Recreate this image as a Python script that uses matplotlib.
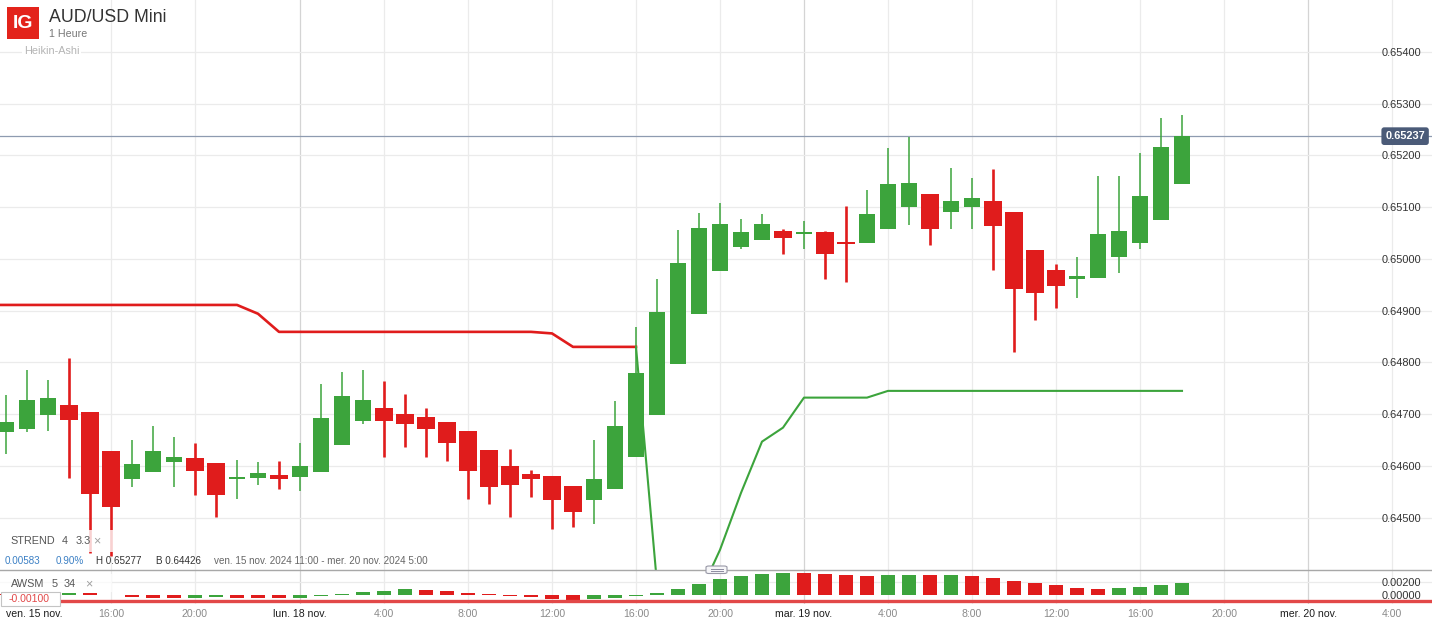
import matplotlib
matplotlib.use('Agg')
import matplotlib.pyplot as plt
from matplotlib.patches import Rectangle, FancyBboxPatch
from matplotlib.lines import Line2D
import numpy as np

plt.rcParams['font.family'] = ['Liberation Sans', 'DejaVu Sans']

# ---------------- data (hourly Heikin-Ashi candles, index 0 = ven. 15 nov. 11:00) ----------------
opens = [0.64666, 0.64672, 0.64699, 0.64718, 0.64705, 0.64628, 0.64574, 0.64588, 0.64607, 0.64616,
         0.64606, 0.64574, 0.64576, 0.64583, 0.64578, 0.64588, 0.64640, 0.64686, 0.64711, 0.64701,
         0.64695, 0.64685, 0.64668, 0.64631, 0.64599, 0.64585, 0.64581, 0.64562, 0.64535, 0.64555,
         0.64617, 0.64698, 0.64796, 0.64894, 0.64976, 0.65022, 0.65037, 0.65054, 0.65048, 0.65052,
         0.65033, 0.65030, 0.65058, 0.65101, 0.65125, 0.65091, 0.65101, 0.65112, 0.65091, 0.65017,
         0.64979, 0.64962, 0.64964, 0.65004, 0.65030, 0.65076, 0.65145]
highs = [0.64737, 0.64786, 0.64766, 0.64809, 0.64705, 0.64628, 0.64651, 0.64678, 0.64655, 0.64645,
         0.64606, 0.64612, 0.64608, 0.64610, 0.64645, 0.64759, 0.64782, 0.64786, 0.64765, 0.64739,
         0.64712, 0.64685, 0.64668, 0.64631, 0.64633, 0.64593, 0.64581, 0.64562, 0.64651, 0.64726,
         0.64869, 0.64961, 0.65056, 0.65089, 0.65108, 0.65077, 0.65087, 0.65058, 0.65073, 0.65054,
         0.65102, 0.65133, 0.65214, 0.65236, 0.65125, 0.65176, 0.65156, 0.65174, 0.65091, 0.65017,
         0.64990, 0.65004, 0.65160, 0.65160, 0.65205, 0.65272, 0.65277]
lows = [0.64624, 0.64665, 0.64668, 0.64576, 0.64432, 0.64426, 0.64559, 0.64588, 0.64559, 0.64543,
        0.64501, 0.64537, 0.64564, 0.64555, 0.64551, 0.64588, 0.64640, 0.64682, 0.64617, 0.64636,
        0.64618, 0.64609, 0.64537, 0.64526, 0.64501, 0.64541, 0.64478, 0.64483, 0.64487, 0.64555,
        0.64617, 0.64698, 0.64796, 0.64894, 0.64976, 0.65020, 0.65037, 0.65010, 0.65020, 0.64962,
        0.64956, 0.65030, 0.65058, 0.65066, 0.65026, 0.65058, 0.65057, 0.64979, 0.64821, 0.64881,
        0.64906, 0.64925, 0.64964, 0.64972, 0.65020, 0.65076, 0.65145]
closes = [0.64684, 0.64728, 0.64732, 0.64688, 0.64545, 0.64520, 0.64604, 0.64628, 0.64618, 0.64591,
          0.64543, 0.64578, 0.64587, 0.64574, 0.64599, 0.64693, 0.64736, 0.64728, 0.64686, 0.64682,
          0.64672, 0.64644, 0.64591, 0.64559, 0.64564, 0.64574, 0.64535, 0.64512, 0.64575, 0.64678,
          0.64780, 0.64898, 0.64992, 0.65060, 0.65068, 0.65052, 0.65068, 0.65041, 0.65052, 0.65010,
          0.65028, 0.65087, 0.65145, 0.65147, 0.65058, 0.65112, 0.65118, 0.65064, 0.64941, 0.64935,
          0.64947, 0.64967, 0.65048, 0.65054, 0.65122, 0.65216, 0.65237]

# SuperTrend (4, 3.3), indexed from -1 (the 10:00 candle just left of the view):
# down-trend (red) part, then up-trend (green) part
strend_down = [0.64911] * 13 + [0.64894] + [0.64859] * 13 + [0.64856] + [0.64830] * 4 + [None] * 26
strend_up = [None] * 31 + [0.64830, 0.64373, 0.64350, 0.64350, 0.64438, 0.64548, 0.64647, 0.64674] \
            + [0.64732] * 4 + [0.64745] * 15

# Awesome Oscillator (5, 34)
awsm = [0.00010, 0.00015, 0.00025, 0.00030, 0.00020, -0.00010, -0.00030, -0.00048, -0.00054, -0.00048,
        -0.00043, -0.00048, -0.00054, -0.00057, -0.00048, -0.00021, 0.00005, 0.00043, 0.00064, 0.00086,
        0.00075, 0.00059, 0.00032, 0.00005, -0.00015, -0.00043, -0.00065, -0.00080, -0.00075, -0.00060,
        -0.00027, 0.00027, 0.00097, 0.00178, 0.00247, 0.00307, 0.00339, 0.00350, 0.00348, 0.00328,
        0.00312, 0.00307, 0.00312, 0.00313, 0.00311, 0.00313, 0.00301, 0.00274, 0.00220, 0.00188,
        0.00150, 0.00113, 0.00097, 0.00108, 0.00129, 0.00161, 0.00188]

tick_pos = [0, 5, 9, 14, 18, 22, 26, 30, 34, 38, 42, 46, 50, 54, 58, 62, 66]
tick_labels = ['ven. 15 nov.', '16:00', '20:00', 'lun. 18 nov.', '4:00', '8:00', '12:00', '16:00',
               '20:00', 'mar. 19 nov.', '4:00', '8:00', '12:00', '16:00', '20:00', 'mer. 20 nov.', '4:00']
price_ticks = [0.645, 0.646, 0.647, 0.648, 0.649, 0.650, 0.651, 0.652, 0.653, 0.654]
awsm_ticks = [0.0, 0.002]
last_price = 0.65237
awsm_ref_level = -0.001

# ---------------- styling ----------------
GREEN = '#3ca43c'
RED = '#e01c1c'
GRID = '#ebebeb'
DAYGRID = '#d4d4d4'

W, H = 1432, 622
fig = plt.figure(figsize=(W / 100, H / 100), dpi=100)
fig.patch.set_facecolor('white')


def fx(x):
    return x / W


def fy(y):
    return 1 - y / H


ax = fig.add_axes([0, fy(569.5), 1, 569.5 / H])
ax2 = fig.add_axes([0, fy(604), 1, (604 - 569.5) / H])

n = len(closes)
idx = np.arange(n)
xlim = (-6 / 21, (W - 6) / 21)

for a in (ax, ax2):
    a.set_xlim(*xlim)
    a.set_facecolor('white')
    for s in a.spines.values():
        s.set_visible(False)
    for k, lab in zip(tick_pos, tick_labels):
        if k == 0:
            continue
        day = 'nov.' in lab
        a.axvline(k, color=DAYGRID if day else GRID, lw=0.9, zorder=0)

ax.set_ylim(0.644, 0.655)
for p in price_ticks:
    ax.axhline(p, color=GRID, lw=0.9, zorder=0)

# candles
for k in idx:
    o, h, l, c = opens[k], highs[k], lows[k], closes[k]
    up = c >= o
    col = GREEN if up else RED
    ax.vlines(k, l, h, color=col, lw=1.1 if up else 1.9, zorder=3)
    bh = max(abs(c - o), 0.00004)
    bottom = min(o, c) if abs(c - o) >= 0.00004 else (o + c) / 2 - 0.00002
    ax.bar(k, bh, bottom=bottom, width=0.76 if up else 0.86, color=col, linewidth=0, zorder=4)

# supertrend
st_x = np.arange(-1, n)
sd = np.array([np.nan if v is None else v for v in strend_down])
su = np.array([np.nan if v is None else v for v in strend_up])
ax.plot(st_x, sd, color=RED, lw=1.9, zorder=5, solid_joinstyle='round')
ax.plot(st_x, su, color=GREEN, lw=1.5, zorder=5, solid_joinstyle='round')

# last price line
ax.axhline(last_price, color='#8e9bb0', lw=0.9, zorder=2)

# y tick labels (inside, right)
ax.yaxis.tick_right()
ax.set_yticks(price_ticks)
ax.set_yticklabels(['%.5f' % p for p in price_ticks])
ax.tick_params(axis='y', length=0, pad=-7.4, labelsize=7.9, labelcolor='#333333')
for lab in ax.get_yticklabels():
    lab.set_horizontalalignment('right')
ax.set_xticks([])

ax.text(fx(1425), last_price, '%.5f' % last_price, transform=ax.get_yaxis_transform(),
        ha='right', va='center', color='white', fontsize=7.9, fontweight='bold', zorder=10,
        bbox=dict(boxstyle='round,pad=0.35,rounding_size=0.25', fc='#4b5b78', ec='none'))

# ---------------- AWSM panel ----------------
ax2.set_ylim(-0.0015, (594.7 - 569.5) / 6200)
ax2.spines['top'].set_visible(True)
ax2.spines['top'].set_color('#a8a8a8')
ax2.spines['top'].set_linewidth(1.0)
ax2.axhline(0.002, color=GRID, lw=0.9, zorder=0)
acol = [GREEN if (i > 0 and awsm[i] >= awsm[i - 1]) else RED for i in range(n)]
ax2.bar(idx, awsm, width=0.7, color=acol, linewidth=0, zorder=3)
ax2.axhline(awsm_ref_level, xmin=60 / W, color='#e24848', lw=2.4, zorder=4)

ax2.yaxis.tick_right()
ax2.set_yticks(awsm_ticks)
ax2.set_yticklabels(['%.5f' % v for v in awsm_ticks])
ax2.tick_params(axis='y', length=0, pad=-7.4, labelsize=7.9, labelcolor='#333333')
for lab in ax2.get_yticklabels():
    lab.set_horizontalalignment('right')

ax2.set_xticks(tick_pos)
ax2.set_xticklabels(tick_labels)
ax2.tick_params(axis='x', length=0, pad=3.3, labelsize=7.6)
for k, lab in zip(tick_pos, ax2.get_xticklabels()):
    if 'nov.' in lab.get_text():
        lab.set_color('#1e1e1e')
    else:
        lab.set_color('#8a8a8a')
    if k == 0:
        lab.set_horizontalalignment('left')

# ---------------- overlays / header ----------------
fig.add_artist(Rectangle((fx(7.3), fy(39.3)), 32 / W, 32 / H, transform=fig.transFigure,
                         fc='#e3231b', ec='none', zorder=10))
fig.text(fx(23.5), fy(24), 'IG', color='white', fontsize=14, fontweight='bold',
         ha='center', va='center', zorder=11)
fig.text(fx(49), fy(17), 'AUD/USD Mini', color='#333333', fontsize=12.8, ha='left', va='center', zorder=11)
fig.text(fx(49), fy(34), '1 Heure', color='#777777', fontsize=7.7, ha='left', va='center', zorder=11)
fig.text(fx(24), fy(51), 'Heikin-Ashi', color='#b4b4b4', fontsize=7.8, ha='left', va='center', zorder=11,
         bbox=dict(boxstyle='square,pad=0.15', fc='white', ec='none'))

# STREND label box
fig.add_artist(Rectangle((0, fy(552)), 113 / W, 22 / H, transform=fig.transFigure,
                         fc='white', ec='none', alpha=0.8, zorder=10))
fig.text(fx(10.5), fy(541), 'STREND', color='#555555', fontsize=7.8, ha='left', va='center', zorder=11)
fig.text(fx(62), fy(541), '4', color='#555555', fontsize=7.8, ha='left', va='center', zorder=11)
fig.text(fx(76), fy(541), '3.3', color='#555555', fontsize=7.8, ha='left', va='center', zorder=11)
fig.text(fx(93), fy(541), '×', color='#a0a0a0', fontsize=9, ha='left', va='center', zorder=11)

# info line
info_y = fy(560.5)
fig.text(fx(5), info_y, '0.00583', color='#3a7fc4', fontsize=7.1, ha='left', va='center', zorder=11)
fig.text(fx(56), info_y, '0.90%', color='#3a7fc4', fontsize=7.1, ha='left', va='center', zorder=11)
fig.text(fx(96), info_y, 'H 0.65277', color='#333333', fontsize=7.1, ha='left', va='center', zorder=11)
fig.text(fx(156), info_y, 'B 0.64426', color='#333333', fontsize=7.1, ha='left', va='center', zorder=11)
fig.text(fx(214), info_y, 'ven. 15 nov. 2024 11:00 - mer. 20 nov. 2024 5:00', color='#666666',
         fontsize=7.1, ha='left', va='center', zorder=11)

# AWSM label box
fig.add_artist(Rectangle((0, fy(592)), 112 / W, 18 / H, transform=fig.transFigure,
                         fc='white', ec='none', alpha=0.75, zorder=10))
fig.text(fx(10.5), fy(584), 'AWSM', color='#555555', fontsize=7.8, ha='left', va='center', zorder=11)
fig.text(fx(52), fy(584), '5', color='#555555', fontsize=7.8, ha='left', va='center', zorder=11)
fig.text(fx(64), fy(584), '34', color='#555555', fontsize=7.8, ha='left', va='center', zorder=11)
fig.text(fx(85), fy(584), '×', color='#a0a0a0', fontsize=9, ha='left', va='center', zorder=11)

# -0.00100 label
fig.add_artist(Rectangle((fx(0.5), fy(606)), 59 / W, 14 / H, transform=fig.transFigure,
                         fc='white', ec='#c4c4c4', lw=0.8, zorder=10))
fig.text(fx(9), fy(599.5), '-0.00100', color='#e24848', fontsize=7.6, ha='left', va='center', zorder=11)

# panel resize handle
fig.add_artist(FancyBboxPatch((fx(706), fy(573.5)), 21 / W, 7.5 / H, transform=fig.transFigure,
                              boxstyle='round,pad=0,rounding_size=0.002', fc='#f6f6f8', ec='#9898a6',
                              lw=0.8, zorder=12))
for yy in (568.6, 570.8):
    fig.add_artist(Line2D([fx(710.5), fx(722.5)], [fy(yy), fy(yy)], transform=fig.transFigure,
                          color='#8c8ca0', lw=0.7, zorder=13))

fig.savefig('out.png', dpi=100, facecolor='white')
